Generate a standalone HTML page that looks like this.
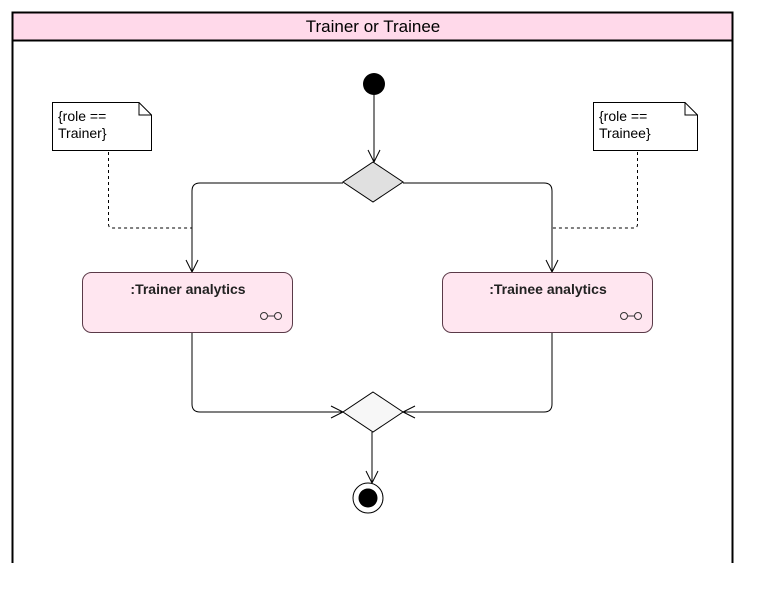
<!DOCTYPE html>
<html><head><style>body{margin:0;background:#fff}</style></head><body>
<svg width="782" height="612" xmlns="http://www.w3.org/2000/svg" style="display:block">
<rect x="0" y="0" width="782" height="612" fill="#fff"/>
<rect x="12.5" y="12.5" width="720" height="28" fill="#ffd9ea" stroke="#000" stroke-width="2"/>
<line x1="12.5" y1="40" x2="12.5" y2="563" stroke="#000" stroke-width="2"/>
<line x1="732.5" y1="40" x2="732.5" y2="563" stroke="#000" stroke-width="2"/>
<text x="373" y="32" text-anchor="middle" font-family="Liberation Sans, sans-serif" font-size="17" fill="#000">Trainer or Trainee</text>
<circle cx="374" cy="84" r="11" fill="#000"/>
<line x1="374" y1="95" x2="374" y2="162" stroke="#000"/>
<path d="M368 150 L374 162 L380 150" fill="none" stroke="#000"/>
<polygon points="373,162 403,182 373,202 343,182" fill="#e0e0e0" stroke="#000"/>
<path d="M343 183 H200 Q192 183 192 191 V272" fill="none" stroke="#000"/>
<path d="M186 260 L192 272 L198 260" fill="none" stroke="#000"/>
<path d="M403 183 H544 Q552 183 552 191 V272" fill="none" stroke="#000"/>
<path d="M546 260 L552 272 L558 260" fill="none" stroke="#000"/>
<path d="M52.5 102.5 H139 L151.5 115 V150.5 H52.5 Z M139 102.5 V115 H151.5" fill="#fff" stroke="#000"/>
<text font-family="Liberation Sans, sans-serif" font-size="14" fill="#000"><tspan x="58" y="121">{role ==</tspan><tspan x="58" y="138">Trainer}</tspan></text>
<path d="M593.5 102.5 H685 L697.5 115 V150.5 H593.5 Z M685 102.5 V115 H697.5" fill="#fff" stroke="#000"/>
<text font-family="Liberation Sans, sans-serif" font-size="14" fill="#000"><tspan x="599" y="121">{role ==</tspan><tspan x="599" y="138">Trainee}</tspan></text>
<path d="M108.5 152 V224 Q108.5 228 112 228 H192" fill="none" stroke="#000" stroke-dasharray="3,3"/>
<path d="M637.5 152 V224 Q637.5 228 634 228 H552" fill="none" stroke="#000" stroke-dasharray="3,3"/>
<rect x="82.5" y="272.5" width="210" height="60" rx="9" fill="#ffe6f0" stroke="#5a3a48"/>
<text x="188" y="294" text-anchor="middle" font-family="Liberation Sans, sans-serif" font-size="14" font-weight="bold" fill="#222">:Trainer analytics</text>
<circle cx="264" cy="316" r="3.5" fill="none" stroke="#333"/><circle cx="278" cy="316" r="3.5" fill="none" stroke="#333"/><line x1="267.5" y1="316" x2="274.5" y2="316" stroke="#333"/>
<rect x="442.5" y="272.5" width="210" height="60" rx="9" fill="#ffe6f0" stroke="#5a3a48"/>
<text x="548" y="294" text-anchor="middle" font-family="Liberation Sans, sans-serif" font-size="14" font-weight="bold" fill="#222">:Trainee analytics</text>
<circle cx="624" cy="316" r="3.5" fill="none" stroke="#333"/><circle cx="638" cy="316" r="3.5" fill="none" stroke="#333"/><line x1="627.5" y1="316" x2="634.5" y2="316" stroke="#333"/>
<path d="M192 333 V404 Q192 412 200 412 H343" fill="none" stroke="#000"/>
<path d="M331 406 L343 412 L331 418" fill="none" stroke="#000"/>
<path d="M552 333 V404 Q552 412 544 412 H403" fill="none" stroke="#000"/>
<path d="M415 406 L403 412 L415 418" fill="none" stroke="#000"/>
<polygon points="373,392 403,412 373,432 343,412" fill="#f7f7f7" stroke="#000"/>
<line x1="372" y1="432" x2="372" y2="483" stroke="#000"/>
<path d="M366 471 L372 483 L378 471" fill="none" stroke="#000"/>
<circle cx="368" cy="498" r="15" fill="#fff" stroke="#000"/>
<circle cx="368" cy="498" r="9.5" fill="#000"/>
</svg>
</body></html>
